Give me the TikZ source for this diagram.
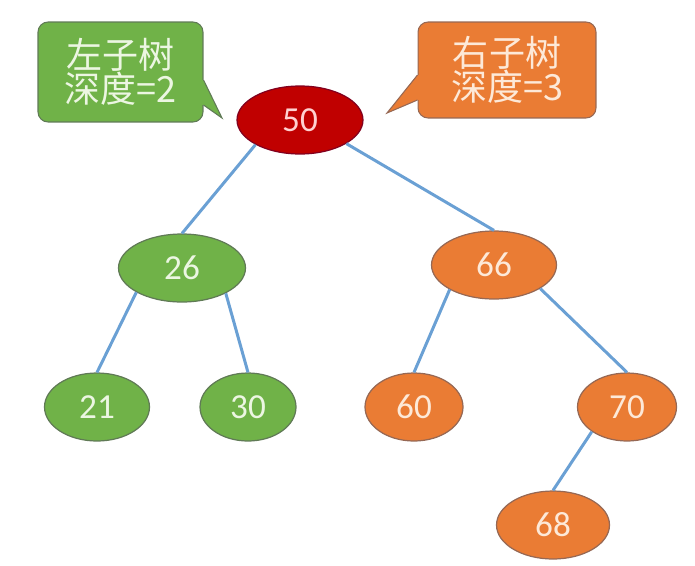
\documentclass[tikz,border=0pt]{standalone}
\usepackage{fontspec}
\setmainfont{Carlito}
\newfontfamily\cjk{Noto Sans CJK SC}
\usepackage{xcolor}
\definecolor{avlRed}     {RGB}{192,   0,   0}
\definecolor{avlRedLine} {RGB}{130,   0,  30}
\definecolor{avlRedText} {RGB}{255, 208, 208}
\definecolor{avlGreen}   {RGB}{112, 178,  72}
\definecolor{avlGreenLn} {RGB}{ 96, 122,  86}
\definecolor{avlGreenTx} {RGB}{236, 246, 226}
\definecolor{avlOrange}  {RGB}{234, 124,  52}
\definecolor{avlOrangeLn}{RGB}{150, 104,  84}
\definecolor{avlOrangeTx}{RGB}{253, 233, 216}
\definecolor{avlLink}    {RGB}{106, 160, 212}
\usepackage{tikz}
\usetikzlibrary{
  shapes.geometric,
}

\begin{document}
\begin{tikzpicture}[
  x=0.02cm, y=-0.02cm,
  keyn/.style  ={ellipse, inner sep=0pt, minimum height=1.36cm,
                 line width=0.7pt, font=\fontsize{20}{24}\selectfont},
  rootn/.style ={keyn, fill=avlRed, draw=avlRedLine, text=avlRedText},
  lsub/.style  ={keyn, fill=avlGreen, draw=avlGreenLn, text=avlGreenTx},
  rsub/.style  ={keyn, fill=avlOrange, draw=avlOrangeLn, text=avlOrangeTx},
  note/.style  ={rounded corners=0.2cm, line width=0.6pt, align=center,
                 inner sep=0pt, font=\cjk\fontsize{20.5}{19}\selectfont},
  lnote/.style ={note, fill=avlGreen, draw=avlGreenLn, text=avlGreenTx},
  rnote/.style ={note, fill=avlOrange, draw=avlOrangeLn, text=avlOrangeTx},
  link/.style  ={line width=1.7pt, color=avlLink},
]
  \useasboundingbox (0,0) rectangle (695,565);

  % tree links: parent side anchors at 210 / 330 degrees, child top
  \node[rootn, minimum width=2.52cm] (n50) at (300,120) {50};
  \node[lsub,  minimum width=2.54cm] (n26) at (182,268) {26};
  \node[rsub,  minimum width=2.50cm] (n66) at (494,265) {66};
  \node[lsub,  minimum width=2.10cm] (n21) at ( 97,407) {21};
  \node[lsub,  minimum width=1.92cm] (n30) at (248,407) {30};
  \node[rsub,  minimum width=1.96cm] (n60) at (414,407) {60};
  \node[rsub,  minimum width=1.98cm] (n70) at (627,407) {70};
  \node[rsub,  minimum width=2.26cm] (n68) at (553,525) {68};

  \draw[link] (n50.209) -- (n26.north);
  \draw[link] (n50.333) -- (n66.north);
  \draw[link] (n26.208) -- (n21.north);
  \draw[link] (n26.330) -- (n30.north);
  \draw[link] (n66.209) -- (n60.north);
  \draw[link] (n66.333) -- (n70.north);
  \draw[link] (n70.215) -- (n68.north);

  % depth callouts
  \coordinate (ltip) at (222,118);
  \coordinate (rtip) at (387,113);
  \node[lnote, minimum width=3.30cm, minimum height=2.00cm] (lbox) at (120.5,72)
    {左子树\\深度=2};
  \node[rnote, minimum width=3.56cm, minimum height=1.92cm] (rbox) at (507,70)
    {右子树\\深度=3};

  \fill[avlGreen] ([xshift=-2pt,yshift=-0.16cm]lbox.east) -- ([yshift=-0.16cm]lbox.east)
    -- (ltip) -- ([yshift=-0.66cm]lbox.east) -- ([xshift=-2pt,yshift=-0.66cm]lbox.east) -- cycle;
  \draw[avlGreenLn, line width=0.6pt] ([yshift=-0.16cm]lbox.east) -- (ltip) -- ([yshift=-0.66cm]lbox.east);
  \fill[avlOrange] ([xshift=2pt,yshift=-0.10cm]rbox.west) -- ([yshift=-0.10cm]rbox.west)
    -- (rtip) -- ([yshift=-0.60cm]rbox.west) -- ([xshift=2pt,yshift=-0.60cm]rbox.west) -- cycle;
  \draw[avlOrangeLn, line width=0.6pt] ([yshift=-0.10cm]rbox.west) -- (rtip) -- ([yshift=-0.60cm]rbox.west);

\end{tikzpicture}
\end{document}
